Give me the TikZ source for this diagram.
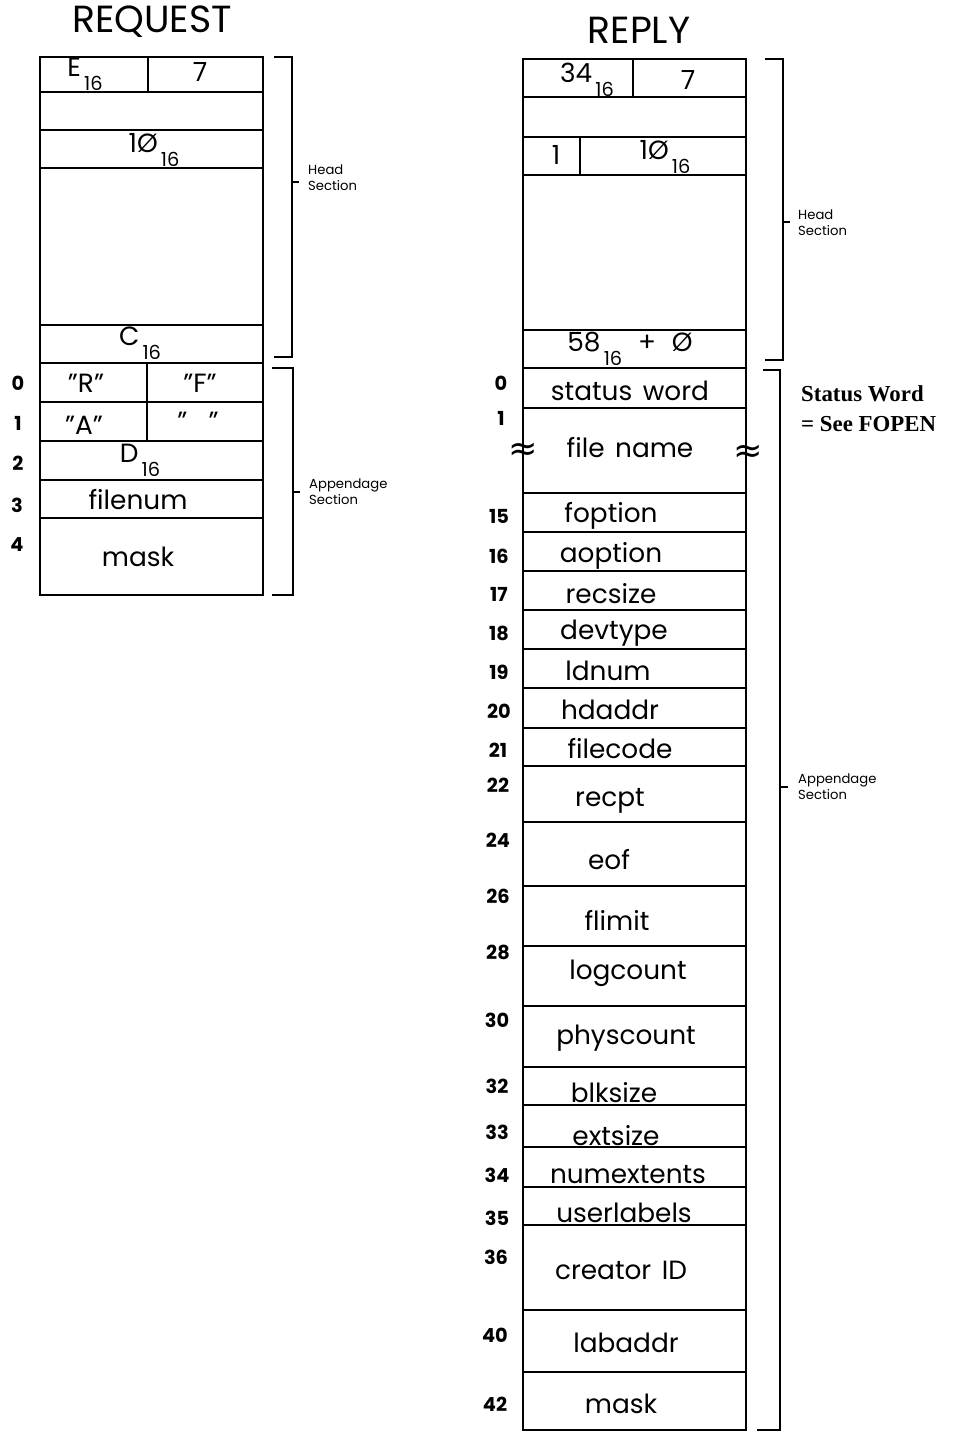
\documentclass[tikz,border=0pt]{standalone}
\usepackage{fontspec}
\setmainfont{Poppins}
\newfontfamily\statusfont{Liberation Serif}
\newfontfamily\symfont{DejaVu Sans}
\usepackage{tikz}
\newcommand{\hexnum}[2]{#1\hspace{0.12em}\raisebox{-0.95ex}{\fontsize{11}{11}\selectfont #2}}

\begin{document}
\begin{tikzpicture}[x=0.02cm, y=-0.02cm, line width=1.4pt,
  titulo/.style={font=\fontsize{21.5}{24}\selectfont, inner sep=0pt},
  campo/.style={font=\fontsize{15}{17}\selectfont, inner sep=0pt},
  num/.style={font=\fontsize{11}{13}\selectfont\bfseries, inner sep=0pt},
  secao/.style={font=\fontsize{7.5}{9}\selectfont, align=left, anchor=west, inner sep=0pt}]
  \useasboundingbox (0,0) rectangle (958,1433);
  % REQUEST: caixa e linhas
  \node[titulo] (reqtit) at (152,22) {REQUEST};
  \draw (40,57) rectangle (263,595);
  \draw (40,92) -- (263,92) (40,130) -- (263,130) (40,168) -- (263,168)
    (40,325) -- (263,325) (40,363) -- (263,363) (40,402) -- (263,402)
    (40,441) -- (263,441) (40,480) -- (263,480) (40,518) -- (263,518);
  \draw (148,57) -- (148,92);
  \draw (147,363) -- (147,441);
  % REQUEST: conte\'udo
  \node[campo] (reqE) at (85,74) {\hexnum{E}{16}};
  \node[campo] (req7) at (200,72) {7};
  \node[campo] (req10) at (154,150) {\hexnum{1Ø}{16}};
  \node[campo] (reqC) at (140,343) {\hexnum{C}{16}};
  \node[campo] (reqR) at (86,383) {"R"};
  \node[campo] (reqF) at (200,383) {"F"};
  \node[campo] (reqA) at (84,425) {"A"};
  \node[campo] (reqsp) at (198,421) {"\ \ \ "};
  \node[campo] (reqD) at (140,460) {\hexnum{D}{16}};
  \node[campo] (reqfilenum) at (138,500) {filenum};
  \node[campo] (reqmask) at (138,557) {mask};
  \node[num] (rq0) at (18,383) {0};
  \node[num] (rq1) at (18,423) {1};
  \node[num] (rq2) at (18,463) {2};
  \node[num] (rq3) at (17,505) {3};
  \node[num] (rq4) at (17,545) {4};
  % REQUEST: chaves
  \draw (274,57) -- (292,57) -- (292,357) -- (274,357);
  \draw (292,182) -- (299,182);
  \node[secao] (reqhead) at (307,178) {Head\\Section};
  \draw (272,368) -- (293,368) -- (293,595) -- (272,595);
  \draw (293,492) -- (300,492);
  \node[secao] (reqapp) at (308,492) {Appendage\\Section};

  % REPLY: caixa e linhas
  \node[titulo] (reptit) at (639,30) {REPLY};
  \draw (523,59) rectangle (746,1430);
  \draw (523,97) -- (746,97) (523,137) -- (746,137) (523,175) -- (746,175)
    (523,330) -- (746,330) (523,368) -- (746,368) (523,408) -- (746,408)
    (523,493) -- (746,493) (523,532) -- (746,532) (523,571) -- (746,571)
    (523,610) -- (746,610) (523,649) -- (746,649) (523,688) -- (746,688)
    (523,728) -- (746,728) (523,766) -- (746,766) (523,822) -- (746,822)
    (523,886) -- (746,886) (523,946) -- (746,946) (523,1006) -- (746,1006)
    (523,1067) -- (746,1067) (523,1105) -- (746,1105) (523,1147) -- (746,1147)
    (523,1187) -- (746,1187) (523,1225) -- (746,1225) (523,1310) -- (746,1310)
    (523,1372) -- (746,1372);
  \draw (633,59) -- (633,97);
  \draw (580,137) -- (580,175);
  % REPLY: conte\'udo
  \node[campo] (rep34) at (587,80) {\hexnum{34}{16}};
  \node[campo] (rep7) at (688,80) {7};
  \node[campo] (rep1) at (556,155) {1};
  \node[campo] (rep10) at (665,157) {\hexnum{1Ø}{16}};
  \node[campo] (rep58) at (630,349) {\hexnum{58}{16}\hspace{0.6em}+\hspace{0.6em}Ø};
  \node[campo] (status) at (630,391) {status\hspace{0.4em}word};
  \node[campo] (filename) at (630,448) {file\hspace{0.4em}name};
  \node[font=\symfont\fontsize{20}{20}\selectfont, inner sep=0pt] (wavl) at (523,452) {≈};
  \node[font=\symfont\fontsize{20}{20}\selectfont, inner sep=0pt] (wavr) at (748,454) {≈};
  \node[campo] (foption) at (611,516) {foption};
  \node[campo] (aoption) at (611,556) {aoption};
  \node[campo] (recsize) at (611,594) {recsize};
  \node[campo] (devtype) at (614,633) {devtype};
  \node[campo] (ldnum) at (608,671) {ldnum};
  \node[campo] (hdaddr) at (610,710) {hdaddr};
  \node[campo] (filecode) at (620,749) {filecode};
  \node[campo] (recpt) at (610,801) {recpt};
  \node[campo] (eof) at (609,860) {eof};
  \node[campo] (flimit) at (617,920) {flimit};
  \node[campo] (logcount) at (628,973) {logcount};
  \node[campo] (physcount) at (626,1038) {physcount};
  \node[campo] (blksize) at (614,1093) {blksize};
  \node[campo] (extsize) at (616,1136) {extsize};
  \node[campo] (numextents) at (628,1175) {numextents};
  \node[campo] (userlabels) at (624,1213) {userlabels};
  \node[campo] (creator) at (621,1270) {creator\hspace{0.4em}ID};
  \node[campo] (labaddr) at (626,1343) {labaddr};
  \node[campo] (repmask) at (621,1404) {mask};
  % REPLY: n\'umeros das palavras
  \node[num] (rp0) at (501,383) {0};
  \node[num] (rp1) at (501,418) {1};
  \node[num] (rp15) at (499,516) {15};
  \node[num] (rp16) at (499,556) {16};
  \node[num] (rp17) at (499,594) {17};
  \node[num] (rp18) at (499,633) {18};
  \node[num] (rp19) at (499,672) {19};
  \node[num] (rp20) at (499,711) {20};
  \node[num] (rp21) at (498,750) {21};
  \node[num] (rp22) at (498,785) {22};
  \node[num] (rp24) at (498,840) {24};
  \node[num] (rp26) at (498,896) {26};
  \node[num] (rp28) at (498,952) {28};
  \node[num] (rp30) at (497,1020) {30};
  \node[num] (rp32) at (497,1086) {32};
  \node[num] (rp33) at (497,1132) {33};
  \node[num] (rp34) at (497,1175) {34};
  \node[num] (rp35) at (497,1218) {35};
  \node[num] (rp36) at (496,1257) {36};
  \node[num] (rp40) at (495,1335) {40};
  \node[num] (rp42) at (495,1404) {42};
  % REPLY: chaves
  \draw (765,59) -- (783,59) -- (783,360) -- (765,360);
  \draw (783,222) -- (790,222);
  \node[secao] (rephead) at (797,223) {Head\\Section};
  \draw (763,370) -- (780,370) -- (780,1430) -- (757,1430);
  \draw (780,787) -- (788,787);
  \node[secao] (repapp) at (797,787) {Appendage\\Section};
  % nota do status
  \node[anchor=west, align=left, inner sep=0pt,
    font=\statusfont\fontsize{13}{17}\selectfont\bfseries] (nota) at (800,409)
    {Status Word\\= See FOPEN};
\end{tikzpicture}
\end{document}
